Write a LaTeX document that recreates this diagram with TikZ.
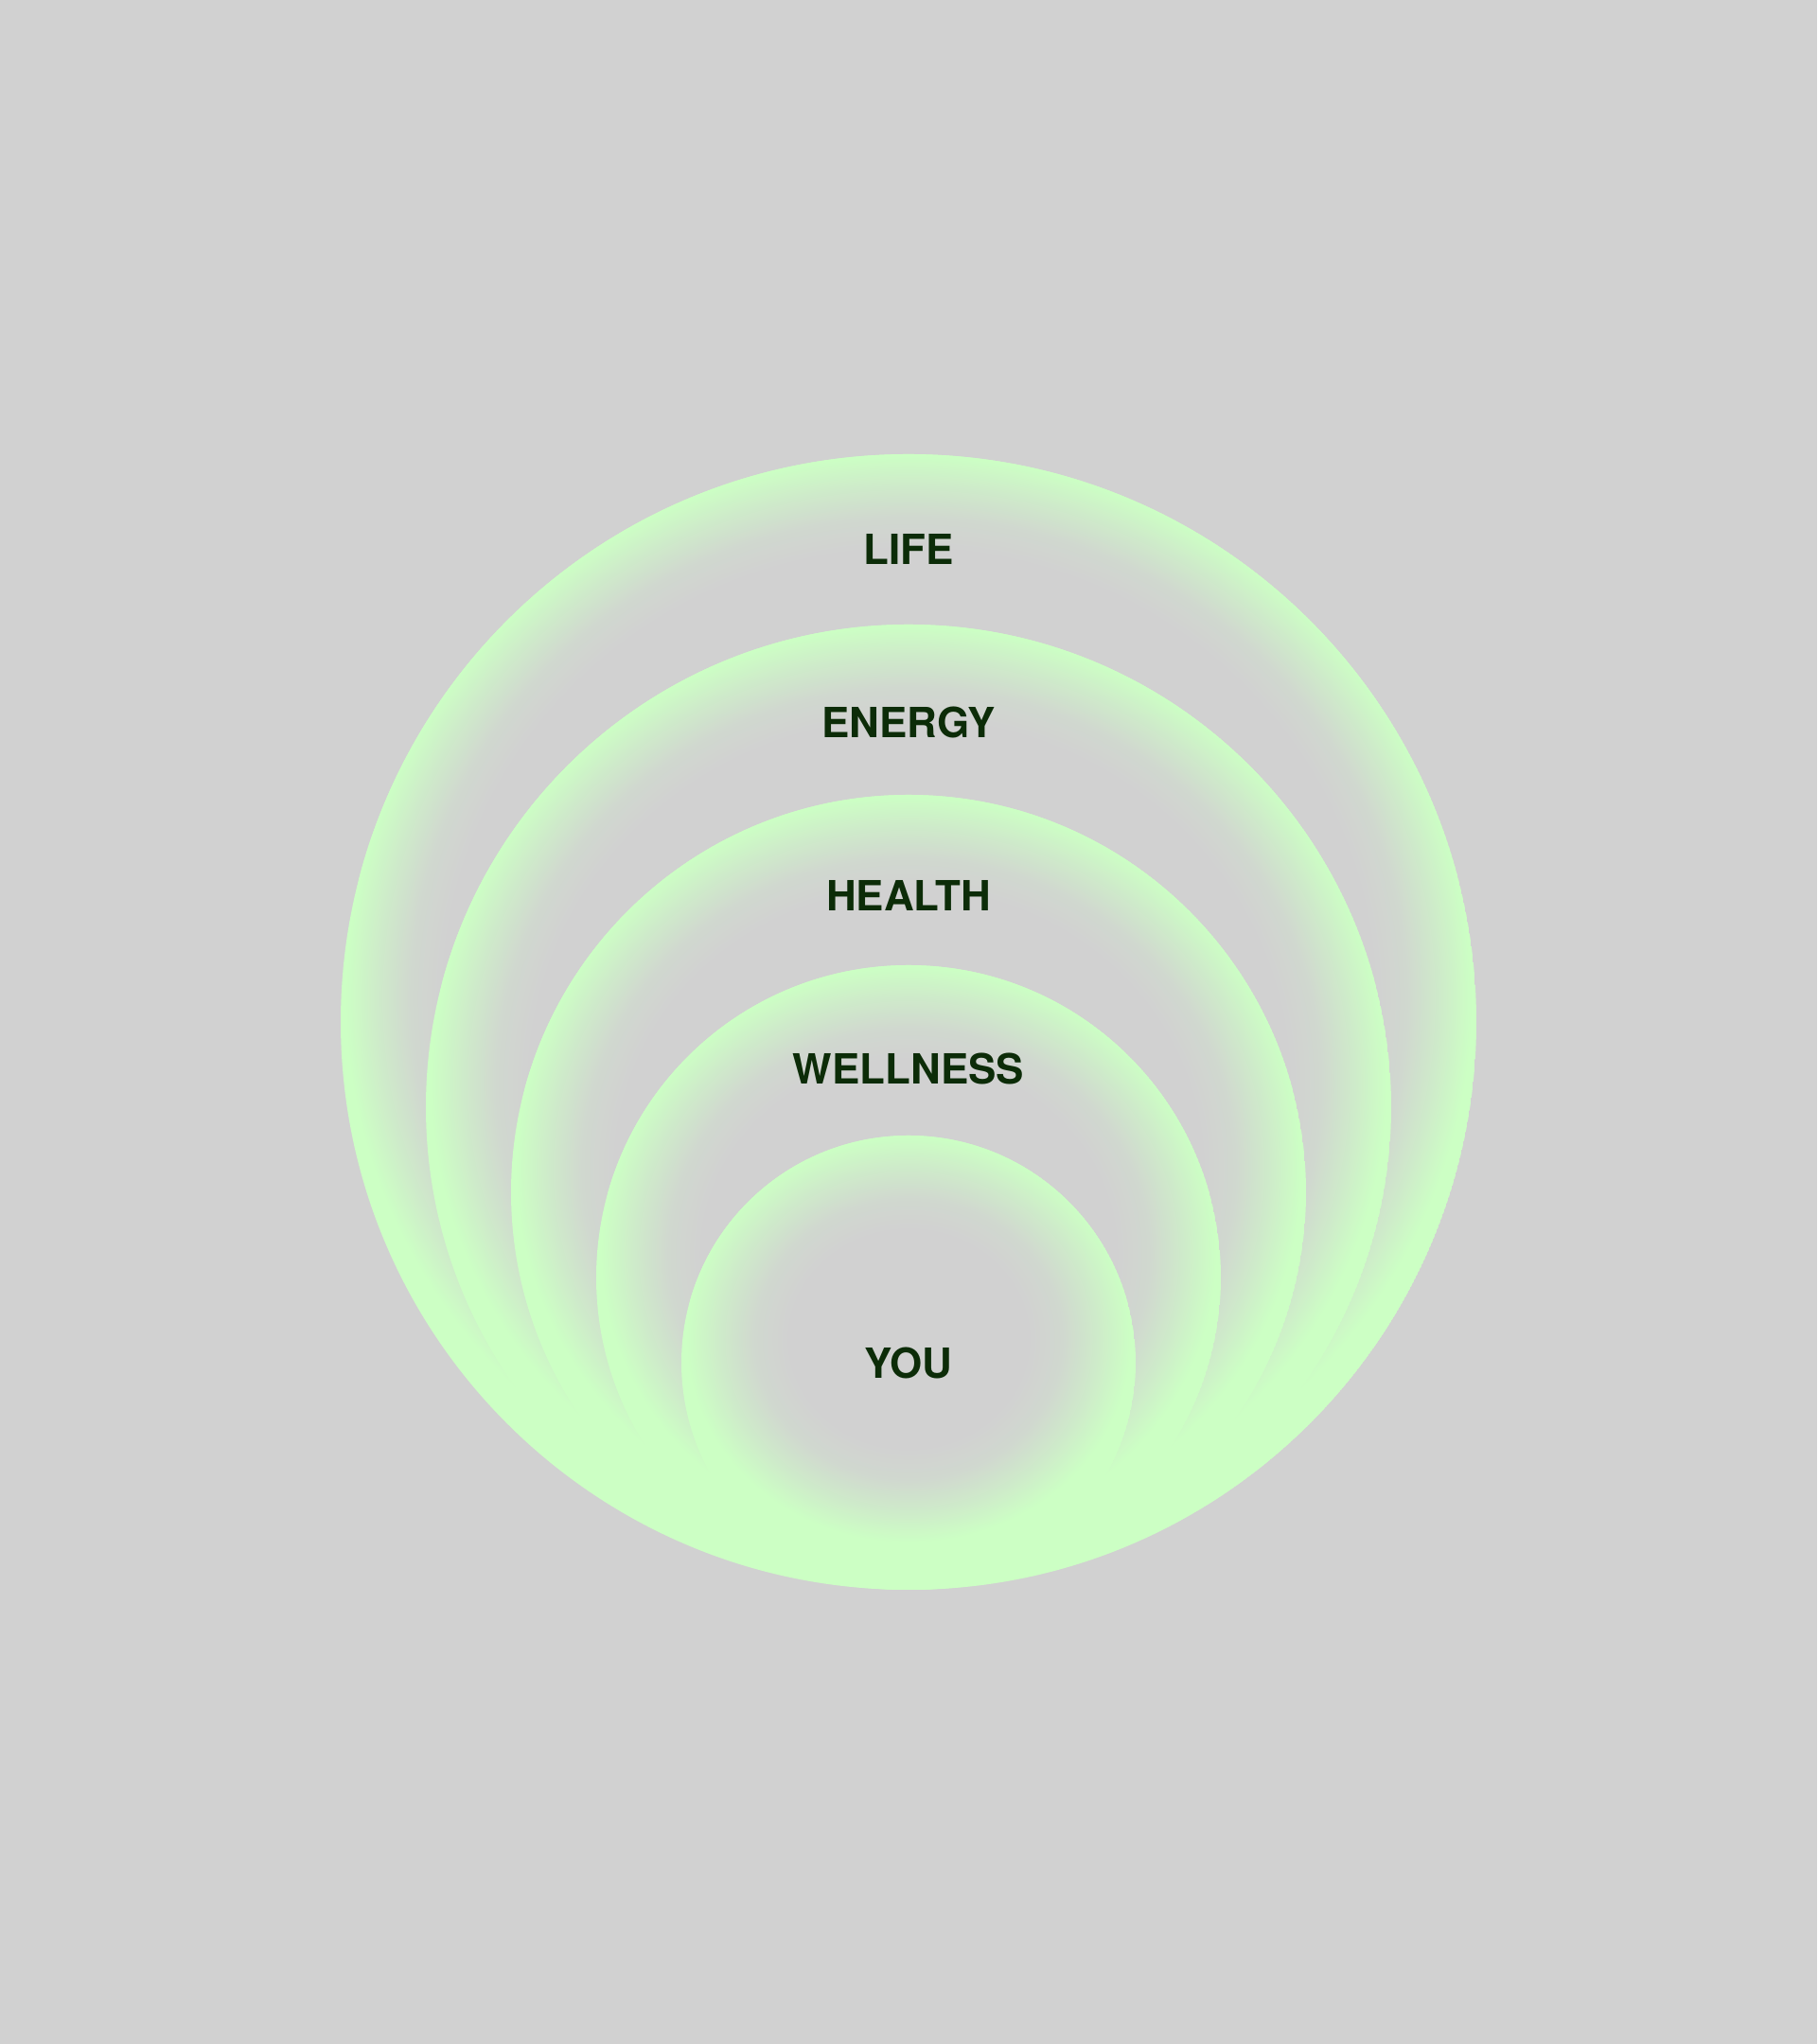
\documentclass[tikz,border=0pt]{standalone}
\usepackage{fontspec}
\setmainfont{TeX Gyre Heros}
\usetikzlibrary{positioning}
\definecolor{bggray}{RGB}{209,209,209}
\definecolor{ringgreen}{RGB}{204,255,196}
\definecolor{labelgreen}{RGB}{12,44,8}
\colorlet{greenlo}{ringgreen!15!bggray}
\colorlet{greenmid}{ringgreen!55!bggray}

\begin{document}
\begin{tikzpicture}[on grid, node distance=1.83cm, ringlabel/.style={font=\bfseries\fontsize{12.5}{15}\selectfont, text=labelgreen, inner sep=0pt}]
\useasboundingbox (0,0) rectangle (19.2,21.6);
\fill[bggray] (0,0) rectangle (19.2,21.6);
% rings, largest first, all touching at the bottom
\foreach \r/\i in {6.0/1,5.1/2,4.2/3,3.3/4,2.4/5}{
  \pgfmathsetmacro\yc{4.8+\r}
  \pgfmathsetmacro\gstop{25*(\r-1.25)/(\r-0.25)}
  \pgfmathsetmacro\sa{\gstop+(25-\gstop)/3}
  \pgfmathsetmacro\sb{\gstop+2*(25-\gstop)/3}
  \edef\temp{\noexpand\pgfdeclareradialshading{ring\i}{\noexpand\pgfpointorigin}{color(0bp)=(bggray); color(\gstop bp)=(bggray); color(\sa bp)=(greenlo); color(\sb bp)=(greenmid); color(25bp)=(ringgreen); color(50bp)=(ringgreen)}}
  \temp
  \begin{scope}
    \clip (9.6,\yc) circle (\r);
    \fill[ringgreen] (9.6,\yc) circle (\r);
    \shade[shading=ring\i] (9.6,\yc+0.25) ellipse [x radius=\r-0.05, y radius=\r-0.25];
  \end{scope}
}
\node (life) [ringlabel] at (9.6,15.79) {LIFE};
\node (energy) [ringlabel, below=of life] {ENERGY};
\node (health) [ringlabel, below=of energy] {HEALTH};
\node (wellness) [ringlabel, below=of health] {WELLNESS};
\node (you) [ringlabel, below=3.1cm of wellness] {YOU};
\end{tikzpicture}
\end{document}
